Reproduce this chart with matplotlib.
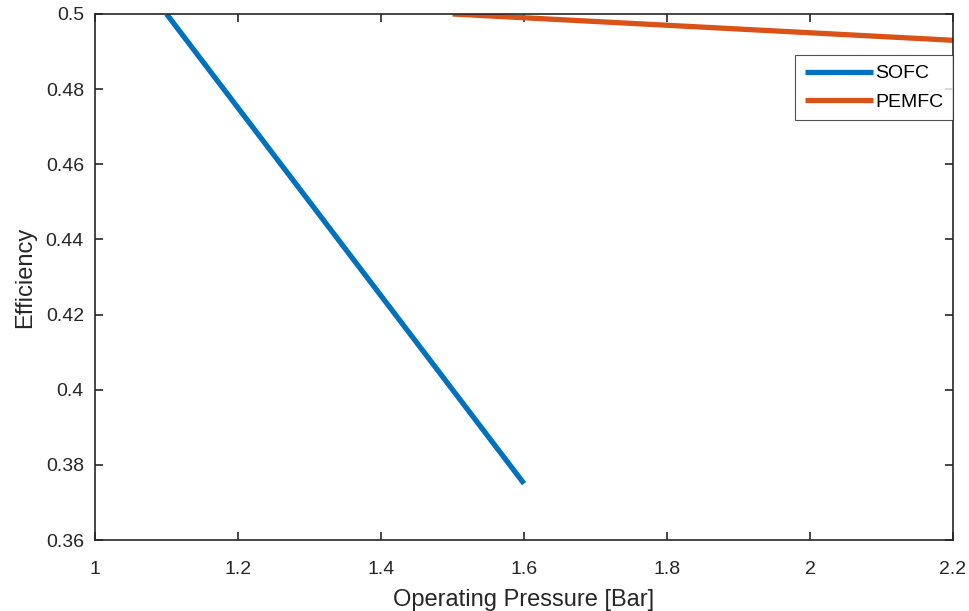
import matplotlib.pyplot as plt

plt.rcParams['font.family'] = ['Liberation Sans', 'DejaVu Sans']

# data
sofc_p = [1.1, 1.6]
sofc_eff = [0.5, 0.375]
pemfc_p = [1.5, 2.2]
pemfc_eff = [0.5, 0.493]

x_ticks = [1, 1.2, 1.4, 1.6, 1.8, 2, 2.2]
x_labels = ['1', '1.2', '1.4', '1.6', '1.8', '2', '2.2']
y_ticks = [0.36, 0.38, 0.4, 0.42, 0.44, 0.46, 0.48, 0.5]
y_labels = ['0.36', '0.38', '0.4', '0.42', '0.44', '0.46', '0.48', '0.5']

fig = plt.figure(figsize=(9.7, 6.11), dpi=100, facecolor='white')
ax = fig.add_axes([0.098, 0.1162, 0.8845, 0.8609])

ax.plot(sofc_p, sofc_eff, color='#0072BD', linewidth=3.8, label='SOFC', solid_capstyle='butt')
ax.plot(pemfc_p, pemfc_eff, color='#D95319', linewidth=3.8, label='PEMFC', solid_capstyle='butt')

ax.set_xlim(1, 2.2)
ax.set_ylim(0.36, 0.5)
ax.set_xticks(x_ticks)
ax.set_xticklabels(x_labels)
ax.set_yticks(y_ticks)
ax.set_yticklabels(y_labels)

ax.tick_params(direction='in', top=True, right=True, length=6, width=1.2,
               labelsize=14, colors='#262626', pad=8)
ax.tick_params(axis='x', pad=15)
for s in ax.spines.values():
    s.set_linewidth(1.2)
    s.set_color('#262626')

ax.set_xlabel('Operating Pressure [Bar]', fontsize=17, color='#262626', labelpad=8)
ax.set_ylabel('Efficiency', fontsize=17, color='#262626', labelpad=7)

leg = ax.legend(loc='upper right', bbox_to_anchor=(1.0, 0.922), fontsize=14,
                frameon=True, fancybox=False, handlelength=3.5, handletextpad=0.1,
                borderpad=0.5, labelspacing=0.55, borderaxespad=0)
leg.get_frame().set_edgecolor('#262626')
leg.get_frame().set_linewidth(0.8)

fig.savefig('out.png', dpi=100, facecolor='white')
